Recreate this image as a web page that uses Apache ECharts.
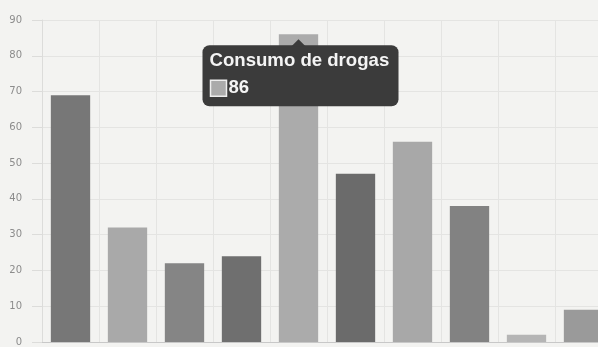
<!DOCTYPE html>
<html>
<head>
<meta charset="utf-8">
<script src="https://cdn.jsdelivr.net/npm/echarts@6/dist/echarts.min.js"></script>
<style>
html,body{margin:0;padding:0;background:#f3f3f1;overflow:hidden;width:598px;height:347px;}
#c{width:612px;height:347px;}
</style>
</head>
<body>
<div id="c"></div>
<script>
var categories = ['1','2','3','4','5','6','7','8','9','10'];
var values = [69, 32, 22, 24, 86, 47, 56, 38, 2, 9];
var yTicks = [0,10,20,30,40,50,60,70,80,90];
var seriesName = 'Consumo de drogas';
var highlighted = 4;

var barColors = ['#777777','#a9a9a9','#858585','#6f6f6f','#ababab','#6b6b6b','#a8a8a8','#828282','#b5b5b5','#9a9a9a'];

var chart = echarts.init(document.getElementById('c'), null, {renderer:'canvas'});
chart.setOption({
  backgroundColor: '#f3f3f1',
  animation: false,
  grid: {left: 42, top: 20, bottom: 3, right: 0, containLabel: false},
  xAxis: {
    type: 'category', data: categories,
    axisLine: {lineStyle: {color: '#c8c8c8'}},
    axisTick: {show: false},
    axisLabel: {show: false},
    splitLine: {show: true, lineStyle: {color: '#e4e4e2'}}
  },
  yAxis: {
    type: 'value', min: yTicks[0], max: yTicks[yTicks.length-1], interval: 10,
    axisLine: {show: true, lineStyle: {color: '#dcdcda'}},
    axisTick: {show: true, length: 10, lineStyle: {color: '#dcdcda'}},
    axisLabel: {color: '#8c8c8c', fontSize: 10, fontFamily: 'DejaVu Sans', margin: 20},
    splitLine: {lineStyle: {color: '#e4e4e2'}}
  },
  series: [{
    name: seriesName, type: 'bar', barCategoryGap: '31%',
    data: values.map(function(v,i){ return {value: v, itemStyle: {color: barColors[i]}}; })
  }]
});

var tip = chart.convertToPixel({seriesIndex: 0}, [highlighted, values[highlighted]]);
var cx = tip[0], ty = tip[1] + 5;
chart.setOption({
  graphic: [
    {type: 'rect', shape: {x: cx - 96, y: ty + 6, width: 196, height: 61, r: 7},
     style: {fill: '#3b3b3b'}, z: 100},
    {type: 'polygon', shape: {points: [[cx - 7, ty + 7], [cx, ty], [cx + 7, ty + 7]]},
     style: {fill: '#3b3b3b'}, z: 100},
    {type: 'text', x: cx - 89, y: ty + 12, z: 101,
     style: {text: seriesName, fill: '#f4f4f4', font: 'bold 18.6px "Liberation Sans", Arial, sans-serif'}},
    {type: 'rect', shape: {x: cx - 88, y: ty + 41, width: 16, height: 16}, z: 101,
     style: {fill: barColors[highlighted], stroke: '#eeeeee', lineWidth: 1.5}},
    {type: 'text', x: cx - 70, y: ty + 39, z: 101,
     style: {text: String(values[highlighted]), fill: '#f4f4f4', font: 'bold 18.6px "Liberation Sans", Arial, sans-serif'}}
  ]
});
</script>
</body>
</html>
